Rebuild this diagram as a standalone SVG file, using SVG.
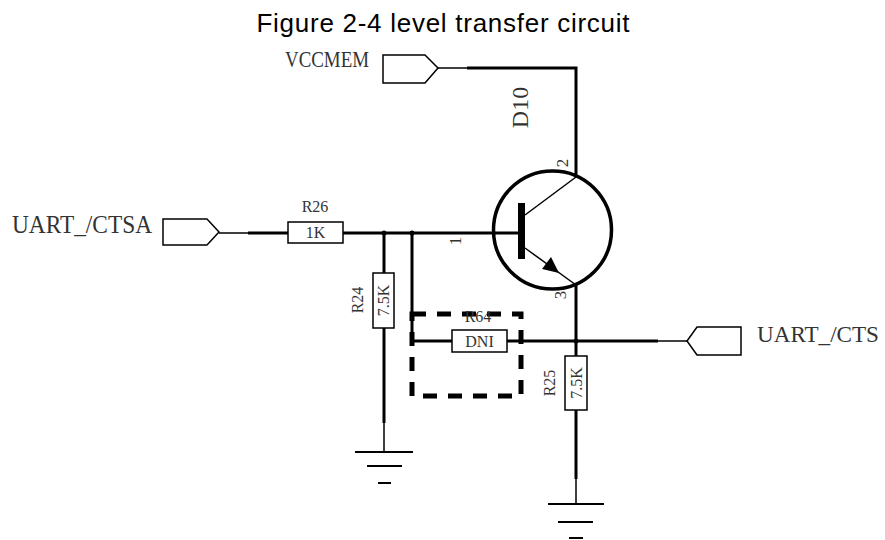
<svg xmlns="http://www.w3.org/2000/svg" width="885" height="540" viewBox="0 0 885 540">
<style>
.thick{stroke:#000;stroke-width:3;fill:none}
.thin{stroke:#000;stroke-width:1.5;fill:none}
.box{stroke:#000;stroke-width:1.5;fill:#fff}
.port{stroke:#000;stroke-width:1.5;fill:#fff}
.lbl{font-family:"Liberation Serif",serif;fill:#333}
.title{font-family:"Liberation Sans",Arial,sans-serif;font-size:26px;fill:#000}
.gnd{stroke:#000;stroke-width:2}
</style>
<rect width="885" height="540" fill="#fff"/>
<text class="title" x="443" y="32" text-anchor="middle" textLength="373">Figure 2-4 level transfer circuit</text>

<g id="connectors">
  <path class="thin" d="M438 68H467"/>
  <path class="thick" d="M467 68H576V177"/>
  <path class="thin" d="M219 233H248"/>
  <path class="thick" d="M248 233H288"/>
  <path class="thick" d="M343 233H518"/>
  <path class="thick" d="M384 233V273"/>
  <path class="thick" d="M384 328V423"/>
  <path class="thin" d="M384 423V452"/>
  <path class="thick" d="M412 233V341H452"/>
  <path class="thick" d="M507 341H658"/>
  <path class="thin" d="M658 341H687"/>
  <path class="thick" d="M576 285V356"/>
  <path class="thick" d="M576 410V479"/>
  <path class="thin" d="M576 479V504"/>
  <circle cx="384" cy="233" r="2.5"/>
  <circle cx="412" cy="233" r="2.5"/>
  <circle cx="576" cy="341" r="2.5"/>
</g>

<g id="VCCMEM">
  <text class="lbl" x="285" y="67" font-size="24" textLength="84" lengthAdjust="spacingAndGlyphs">VCCMEM</text>
  <path class="port" d="M383 55H425L438 68L425 83H383Z"/>
</g>

<g id="UART_CTSA">
  <text class="lbl" x="12" y="233" font-size="25" textLength="140" lengthAdjust="spacingAndGlyphs">UART_/CTSA</text>
  <path class="port" d="M163 219H207L219 232L207 245H163Z"/>
</g>

<g id="UART_CTS">
  <text class="lbl" x="757" y="342" font-size="23" textLength="122" lengthAdjust="spacingAndGlyphs">UART_/CTS</text>
  <path class="port" d="M741 327H697L687 341L697 355H741Z"/>
</g>

<g id="R26">
  <rect class="box" x="288" y="222" width="55" height="21"/>
  <text class="lbl" x="315.5" y="238" font-size="16" text-anchor="middle">1K</text>
  <text class="lbl" x="315" y="212" font-size="16" text-anchor="middle">R26</text>
</g>

<g id="R24">
  <rect class="box" x="373" y="273" width="21" height="55"/>
  <text class="lbl" font-size="16" text-anchor="middle" transform="translate(389 300.5) rotate(-90)">7.5K</text>
  <text class="lbl" font-size="16" text-anchor="middle" transform="translate(363 300) rotate(-90)">R24</text>
</g>

<g id="R64">
  <rect x="412" y="314" width="109" height="82" fill="none" stroke="#000" stroke-width="5" stroke-dasharray="14 11"/>
  <rect class="box" x="452" y="330" width="55" height="22"/>
  <text class="lbl" x="479.5" y="347" font-size="16" text-anchor="middle">DNI</text>
  <text class="lbl" x="478" y="322" font-size="16" text-anchor="middle">R64</text>
</g>

<g id="R25">
  <rect class="box" x="565" y="356" width="22" height="54"/>
  <text class="lbl" font-size="16" text-anchor="middle" transform="translate(581.5 383) rotate(-90)">7.5K</text>
  <text class="lbl" font-size="16" text-anchor="middle" transform="translate(555 383) rotate(-90)">R25</text>
</g>

<g id="D10">
  <circle cx="552.5" cy="230" r="59" fill="none" stroke="#000" stroke-width="3.5"/>
  <rect x="518" y="203" width="7" height="56"/>
  <path class="thin" d="M525 215L576 177"/>
  <path class="thin" d="M525 248L576 285"/>
  <path d="M559 273L542 269L551 257Z"/>
  <text class="lbl" font-size="24" text-anchor="middle" transform="translate(528 107.5) rotate(-90)">D10</text>
  <text class="lbl" font-size="17" text-anchor="middle" transform="translate(568 163) rotate(-90)">2</text>
  <text class="lbl" font-size="17" text-anchor="middle" transform="translate(461 241) rotate(-90)">1</text>
  <text class="lbl" font-size="17" text-anchor="middle" transform="translate(566 295) rotate(-90)">3</text>
</g>

<g id="GND1">
  <path class="gnd" d="M355 452H413M367 466H402M378 483H391"/>
</g>
<g id="GND2">
  <path class="gnd" d="M548 504H604M558 522H593M569 538H583"/>
</g>
</svg>
